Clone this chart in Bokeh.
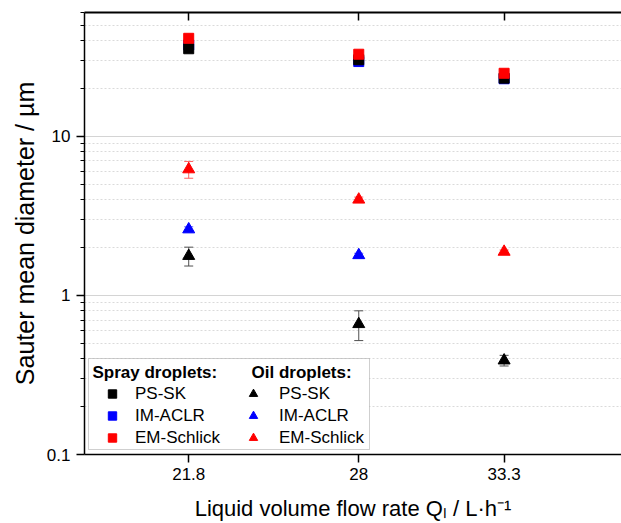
from math import isnan
from bokeh.plotting import figure
from bokeh.models import (Range1d, FixedTicker, LinearAxis, CustomJSTickFormatter, ColumnDataSource,
                          Whisker, TeeHead, Legend, LegendItem, Label, BoxAnnotation)
from bokeh.embed import file_html
from bokeh.resources import INLINE

nan = float("nan")

# ---- data ----
flow_rates = [21.8, 28.0, 33.3]
x_tick_labels = ["21.8", "28", "33.3"]
y_ticks = [0.1, 1, 10]
y_tick_labels = ["0.1", "1", "10"]
y_minor_ticks = [0.2, 0.3, 0.4, 0.5, 0.6, 0.7, 0.8, 0.9,
                 2, 3, 4, 5, 6, 7, 8, 9, 20, 30, 40, 50, 60]

spray_ps_sk = [35.5, 30.3, 23.2]
spray_im_aclr = [37.5, 29.5, 23.0]
spray_em_schlick = [41.3, 32.8, 24.9]

oil_ps_sk = [1.77, 0.66, 0.39]
oil_ps_sk_err = [0.24, 0.14, 0.03]
oil_im_aclr = [2.6, 1.79, nan]
oil_im_aclr_err = [0.1, 0.05, nan]
oil_em_schlick = [6.2, 4.0, 1.88]
oil_em_schlick_err = [0.75, 0.15, 0.05]

FONT = "Liberation Sans"

p = figure(width=621, height=523, x_range=Range1d(18.0, 37.58), y_range=Range1d(0.1, 60),
           y_axis_type="log", output_backend="svg", toolbar_location=None,
           min_border_left=84, min_border_right=0, min_border_top=12, min_border_bottom=69)
p.outline_line_color = None
p.background_fill_color = "white"
p.border_fill_color = "white"

tick_fmt = "const i = tv.indexOf(tick); return i >= 0 ? tl[i] : '';"

xa = p.xaxis[0]
xa.ticker = FixedTicker(ticks=flow_rates)
xa.formatter = CustomJSTickFormatter(args=dict(tv=flow_rates, tl=x_tick_labels), code=tick_fmt)
xa.major_tick_out = 8
xa.major_tick_in = 0
xa.minor_tick_out = 0
xa.minor_tick_in = 0
xa.axis_line_width = 1.5
xa.major_tick_line_width = 1.5
xa.major_label_standoff = 5
xa.major_label_text_font = FONT
xa.major_label_text_font_size = "17px"
xa.major_label_text_color = "black"
xa.axis_label = "Liquid volume flow rate Qₗ / L·h⁻¹"
xa.axis_label_text_font = FONT
xa.axis_label_text_font_size = "22px"
xa.axis_label_text_font_style = "normal"
xa.axis_label_text_color = "black"
xa.axis_label_standoff = 13

ya = p.yaxis[0]
ya.ticker = FixedTicker(ticks=y_ticks, minor_ticks=y_minor_ticks)
ya.formatter = CustomJSTickFormatter(args=dict(tv=y_ticks, tl=y_tick_labels), code=tick_fmt)
ya.major_tick_out = 8
ya.major_tick_in = 0
ya.minor_tick_out = 4
ya.minor_tick_in = 0
ya.axis_line_width = 1.5
ya.major_tick_line_width = 1.5
ya.minor_tick_line_width = 1.2
ya.major_label_standoff = 6
ya.major_label_text_font = FONT
ya.major_label_text_font_size = "17px"
ya.major_label_text_color = "black"
ya.axis_label = "Sauter mean diameter / µm"
ya.axis_label_text_font = FONT
ya.axis_label_text_font_size = "25px"
ya.axis_label_text_font_style = "normal"
ya.axis_label_text_color = "black"
ya.axis_label_standoff = 5

top = LinearAxis(ticker=FixedTicker(ticks=flow_rates),
                 formatter=CustomJSTickFormatter(code="return '';"),
                 major_tick_in=8, major_tick_out=0, minor_tick_in=0, minor_tick_out=0,
                 major_label_standoff=0, axis_line_width=2, major_tick_line_width=1.5)
p.add_layout(top, "above")

p.xgrid.visible = False
p.ygrid.grid_line_color = "#d4d4d4"
p.ygrid.grid_line_width = 1
p.ygrid.minor_grid_line_color = "#dadada"
p.ygrid.minor_grid_line_dash = "2 2"

colors = {"ps": "#000000", "im": "#0000ff", "em": "#ff0000"}
err_colors = {"ps": "#505050", "im": "#6060ff", "em": "#ff6060"}


def clean(xs, ys, es=None):
    keep = [i for i in range(len(xs)) if not isnan(ys[i])]
    d = dict(x=[xs[i] for i in keep], y=[ys[i] for i in keep])
    if es is not None:
        d["upper"] = [ys[i] + es[i] for i in keep]
        d["lower"] = [ys[i] - es[i] for i in keep]
    return ColumnDataSource(d)


# error bars for oil droplets
for key, ys, es in [("ps", oil_ps_sk, oil_ps_sk_err), ("im", oil_im_aclr, oil_im_aclr_err),
                    ("em", oil_em_schlick, oil_em_schlick_err)]:
    src = clean(flow_rates, ys, es)
    c = err_colors[key]
    w = Whisker(base="x", upper="upper", lower="lower", source=src, dimension="height",
                line_color=c, line_width=1,
                upper_head=TeeHead(size=9, line_color=c, line_width=1),
                lower_head=TeeHead(size=9, line_color=c, line_width=1))
    p.add_layout(w)

# spray droplets (squares)
spray_r = {}
for key, ys in [("im", spray_im_aclr), ("ps", spray_ps_sk), ("em", spray_em_schlick)]:
    spray_r[key] = p.scatter("x", "y", source=clean(flow_rates, ys), marker="square", size=10,
                             fill_color=colors[key], line_color=colors[key])

# oil droplets (triangles)
oil_r = {}
for key, ys in [("im", oil_im_aclr), ("ps", oil_ps_sk), ("em", oil_em_schlick)]:
    oil_r[key] = p.scatter("x", "y", source=clean(flow_rates, ys), marker="triangle", size=12,
                           fill_color=colors[key], line_color=colors[key])

# legend frame
box = BoxAnnotation(left=4, right=285, bottom=5, top=96,
                    left_units="screen", right_units="screen", top_units="screen", bottom_units="screen",
                    fill_color="white", fill_alpha=1, line_color="#606060", line_width=1, level="annotation")
p.add_layout(box)

names = [("ps", "PS-SK"), ("im", "IM-ACLR"), ("em", "EM-Schlick")]


def make_legend(rs, loc, standoff):
    return Legend(items=[LegendItem(label=n, renderers=[rs[k]]) for k, n in names],
                  location=loc, padding=0, margin=0, spacing=1, glyph_width=22, glyph_height=21,
                  label_height=21, label_standoff=standoff, border_line_alpha=0, background_fill_alpha=0,
                  label_text_font=FONT, label_text_font_size="17px", label_text_color="black")


p.add_layout(make_legend(spray_r, (17, 6), 12), "center")
p.add_layout(make_legend(oil_r, (158, 6), 15), "center")

for txt, x in [("Spray droplets:", 8), ("Oil droplets:", 167)]:
    p.add_layout(Label(x=x, y=82, x_units="screen", y_units="screen", text=txt,
                       text_font=FONT, text_font_size="17px", text_font_style="bold",
                       text_baseline="middle", text_align="left", text_color="black"))

open("out.html", "w").write(file_html(p, INLINE))
